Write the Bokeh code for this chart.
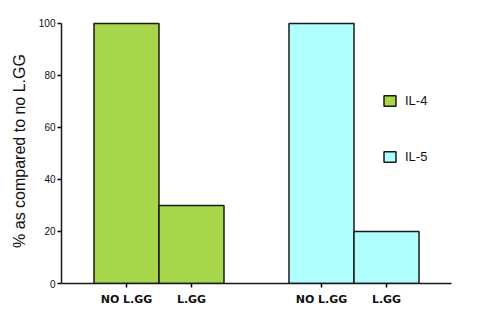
from bokeh.plotting import figure
from bokeh.models import Range1d, FixedTicker, Legend, LegendItem, ColumnDataSource
from bokeh.embed import file_html
from bokeh.resources import INLINE

groups = ["IL-4", "IL-5"]
categories = ["NO L.GG", "L.GG"]
il4_values = [100, 30]
il5_values = [100, 20]
il4_x = [1, 2]
il5_x = [4, 5]
y_ticks = [0, 20, 40, 60, 80, 100]

p = figure(width=500, height=315, output_backend="svg", toolbar_location=None,
           x_range=Range1d(0, 6), y_range=Range1d(0, 101.9),
           min_border_left=61, min_border_right=49, min_border_top=18, min_border_bottom=32)
p.outline_line_color = None
p.grid.grid_line_color = None
p.background_fill_color = "white"
p.border_fill_color = "white"

src4 = ColumnDataSource(dict(x=il4_x, top=il4_values))
src5 = ColumnDataSource(dict(x=il5_x, top=il5_values))
r4 = p.vbar(x="x", top="top", width=1, bottom=0, source=src4,
            fill_color="#A8D64A", line_color="#1a1a1a", line_width=1.5)
r5 = p.vbar(x="x", top="top", width=1, bottom=0, source=src5,
            fill_color="#B0FFFF", line_color="#1a1a1a", line_width=1.5)

# x axis
xa = p.xaxis[0]
xa.ticker = FixedTicker(ticks=il4_x + il5_x)
labels = {}
for xs in (il4_x, il5_x):
    for x, c in zip(xs, categories):
        labels[x] = c
xa.major_label_overrides = labels
xa.minor_tick_line_color = None
xa.major_tick_out = 4
xa.major_tick_in = 0
xa.major_label_standoff = 5
xa.major_label_text_font = "DejaVu Sans"
xa.major_label_text_font_style = "bold"
xa.major_label_text_font_size = "11px"
xa.major_label_text_color = "#111111"
xa.axis_line_width = 1.5
xa.axis_line_color = "#1a1a1a"
xa.major_tick_line_width = 1.5

# y axis
ya = p.yaxis[0]
ya.ticker = FixedTicker(ticks=y_ticks)
ya.bounds = (0, 100)
ya.minor_tick_line_color = None
ya.major_tick_out = 4
ya.major_tick_in = 0
ya.major_label_standoff = 2
ya.major_label_text_font = "Liberation Sans"
ya.major_label_text_font_size = "10px"
ya.major_label_text_color = "#111111"
ya.axis_line_width = 1.5
ya.axis_line_color = "#1a1a1a"
ya.major_tick_line_width = 1.5
ya.axis_label = "% as compared to no L.GG"
ya.axis_label_text_font = "Liberation Sans"
ya.axis_label_text_font_size = "16px"
ya.axis_label_text_font_style = "normal"
ya.axis_label_text_color = "#111111"
ya.axis_label_standoff = 8

legend = Legend(items=[LegendItem(label=groups[0], renderers=[r4]),
                       LegendItem(label=groups[1], renderers=[r5])],
                location=(321, 119), orientation="vertical",
                glyph_width=15, glyph_height=13, label_height=13,
                spacing=41, padding=0, margin=0, label_standoff=8,
                border_line_color=None, background_fill_alpha=0,
                label_text_font="Liberation Sans", label_text_font_size="13px",
                label_text_color="#111111")
p.add_layout(legend)

open("out.html", "w").write(file_html(p, INLINE))
